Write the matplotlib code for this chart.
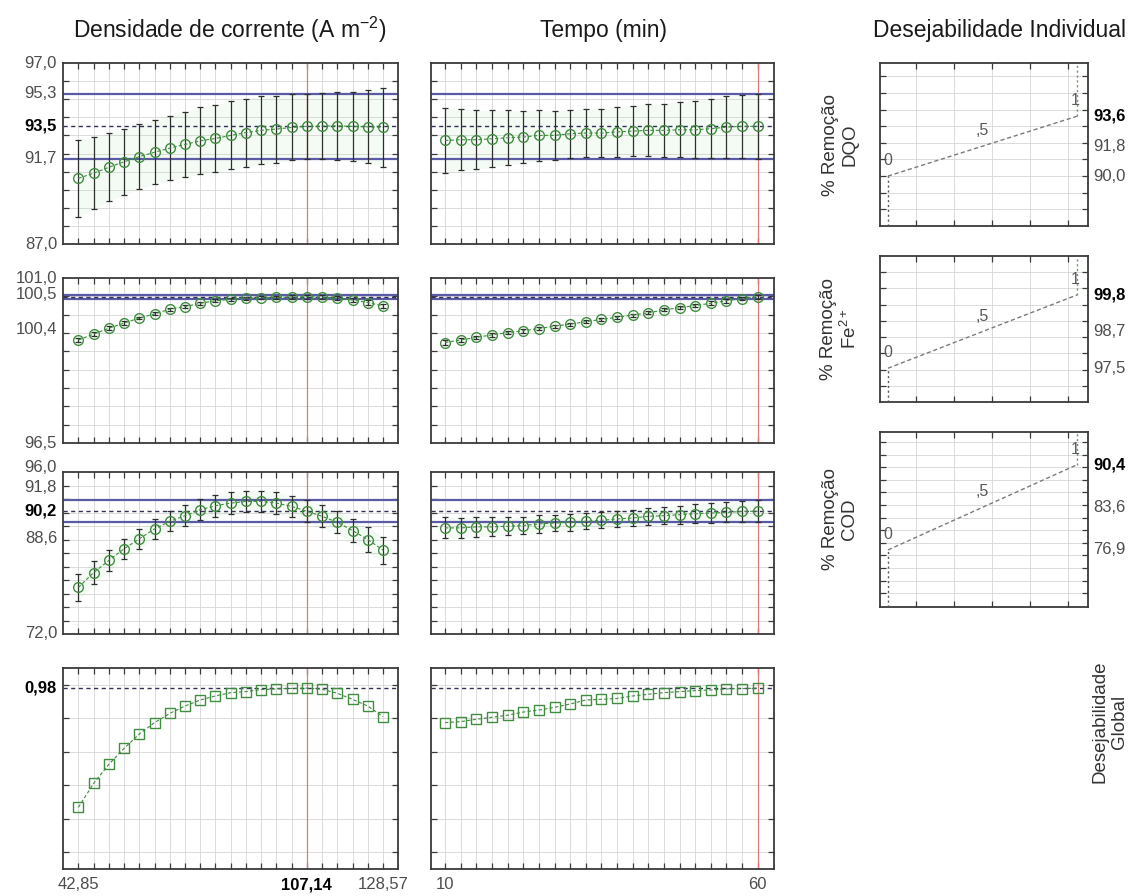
import numpy as np
import matplotlib
matplotlib.use("Agg")
import matplotlib.pyplot as plt
from matplotlib.transforms import blended_transform_factory, offset_copy

# ---------------------------------------------------------------- data
densidade = [42.85, 47.14, 51.43, 55.71, 60.00, 64.28, 68.57, 72.85, 77.14, 81.42,
             85.71, 89.99, 94.28, 98.57, 102.85, 107.14, 111.43, 115.71, 120.00,
             124.28, 128.57]
tempo = [10.0, 12.5, 15.0, 17.5, 20.0, 22.5, 25.0, 27.5, 30.0, 32.5, 35.0, 37.5,
         40.0, 42.5, 45.0, 47.5, 50.0, 52.5, 55.0, 57.5, 60.0]
idx_dens = 15   # current setting: 107.14 A m-2
idx_tempo = 20  # current setting: 60 min

# % remoção DQO
dqo_dens = [90.63, 90.91, 91.24, 91.54, 91.83, 92.07, 92.30, 92.50, 92.70, 92.83, 93.00,
            93.15, 93.28, 93.35, 93.44, 93.50, 93.52, 93.52, 93.50, 93.47, 93.45]
dqo_dens_ic = [2.13, 1.98, 1.89, 1.82, 1.78, 1.77, 1.79, 1.82, 1.85, 1.87, 1.88,
               1.88, 1.87, 1.85, 1.82, 1.80, 1.82, 1.86, 1.92, 2.02, 2.18]
dqo_tempo = [92.72, 92.76, 92.76, 92.81, 92.87, 92.91, 93.00, 93.00, 93.09, 93.13, 93.13,
             93.19, 93.24, 93.28, 93.28, 93.31, 93.31, 93.37, 93.46, 93.50, 93.50]
dqo_tempo_ic = [1.81, 1.69, 1.64, 1.57, 1.51, 1.45, 1.39, 1.34, 1.32, 1.31, 1.33,
                1.36, 1.40, 1.44, 1.48, 1.53, 1.58, 1.62, 1.69, 1.75, 1.80]

# % remoção Fe2+
fe_dens = [99.31, 99.47, 99.63, 99.77, 99.91, 100.02, 100.15, 100.22, 100.31, 100.38, 100.42,
           100.45, 100.46, 100.47, 100.48, 100.49, 100.48, 100.45, 100.40, 100.33, 100.24]
fe_dens_ic = [0.06, 0.05, 0.05, 0.05, 0.04, 0.04, 0.04, 0.04, 0.04, 0.04, 0.04,
              0.04, 0.04, 0.04, 0.05, 0.05, 0.05, 0.05, 0.05, 0.06, 0.06]
fe_tempo = [99.24, 99.31, 99.38, 99.45, 99.51, 99.56, 99.62, 99.69, 99.74, 99.81, 99.87,
            99.93, 99.99, 100.05, 100.13, 100.19, 100.25, 100.31, 100.38, 100.44, 100.49]
fe_tempo_ic = [0.06, 0.06, 0.05, 0.05, 0.05, 0.05, 0.04, 0.04, 0.04, 0.04, 0.04,
               0.04, 0.04, 0.04, 0.04, 0.04, 0.05, 0.05, 0.05, 0.05, 0.05]

# % remoção COD
cod_dens = [78.90, 81.10, 82.90, 84.63, 86.10, 87.57, 88.70, 89.53, 90.41, 91.00, 91.39,
            91.64, 91.64, 91.39, 90.90, 90.19, 89.43, 88.55, 87.32, 86.00, 84.43]
cod_dens_ic = [2.00, 1.75, 1.60, 1.50, 1.45, 1.45, 1.50, 1.55, 1.58, 1.60, 1.60,
               1.60, 1.60, 1.60, 1.60, 1.61, 1.62, 1.65, 1.72, 1.82, 2.00]
cod_tempo = [87.72, 87.72, 87.87, 87.87, 87.96, 88.06, 88.31, 88.45, 88.55, 88.70, 88.84,
             89.04, 89.19, 89.43, 89.53, 89.68, 89.82, 89.92, 90.01, 90.16, 90.19]
cod_tempo_ic = [1.55, 1.50, 1.45, 1.40, 1.35, 1.30, 1.28, 1.25, 1.22, 1.20, 1.20,
                1.20, 1.22, 1.25, 1.28, 1.32, 1.37, 1.42, 1.48, 1.55, 1.61]

# desejabilidade global
des_dens = [0.268, 0.411, 0.525, 0.620, 0.706, 0.774, 0.829, 0.873, 0.909, 0.933, 0.953,
            0.959, 0.971, 0.975, 0.978, 0.980, 0.973, 0.949, 0.913, 0.873, 0.810]
des_tempo = [0.774, 0.780, 0.794, 0.806, 0.818, 0.837, 0.849, 0.865, 0.885, 0.909, 0.913,
             0.918, 0.933, 0.943, 0.953, 0.959, 0.965, 0.969, 0.975, 0.977, 0.980]

# individual desirability: response at d = 0, 0.5, 1
d_levels = [0.0, 0.5, 1.0]
dqo_limits = [90.0, 91.8, 93.6]
fe_limits = [97.54, 98.67, 99.8]
cod_limits = [76.86, 83.63, 90.4]

# axis ranges and ticks of each response row
row_ylim = [(87.0, 97.0), (96.5, 101.0), (72.0, 96.0), (-0.1, 1.1)]
row_ticks = [np.arange(88, 97, 1.0), np.arange(97.0, 101.0, 0.5),
             np.arange(74, 96, 2.0), np.arange(0.0, 1.01, 0.2)]

# ---------------------------------------------------------------- style
plt.rcParams["font.family"] = ["Liberation Sans", "DejaVu Sans"]
plt.rcParams["mathtext.fontset"] = "custom"
plt.rcParams["mathtext.rm"] = "Liberation Sans"
plt.rcParams["mathtext.it"] = "Liberation Sans:italic"
plt.rcParams["mathtext.bf"] = "Liberation Sans:bold"
plt.rcParams["mathtext.default"] = "regular"

W, H = 1148, 896
fig = plt.figure(figsize=(W / 100, H / 100), dpi=100)

FRAME = "#3a3a3a"
GRID = "#d6d6d6"
LABEL = "#4d4d4d"
GREEN = "#3f8d3f"
BLUE = "#5a5aa6"
RED = "#e07a7a"
TICKFS = 12


def px_axes(x0, y0, x1, y1):
    return fig.add_axes([x0 / W, 1 - y1 / H, (x1 - x0) / W, (y1 - y0) / H])


def frame(ax):
    for s in ax.spines.values():
        s.set_color(FRAME)
        s.set_linewidth(1.3)
    ax.tick_params(direction="in", length=4, width=0.9, color=FRAME,
                   top=True, right=True, left=True, bottom=True,
                   labelleft=False, labelbottom=False)
    ax.grid(True, color=GRID, lw=0.6)
    ax.set_axisbelow(True)


def fmt(v, nd=1):
    return f"{v:.{nd}f}".replace(".", ",")


def ylabel_at(ax, value, text, side="left", bold=False, dy=0):
    tr = blended_transform_factory(ax.transAxes, ax.transData)
    weight = "bold" if bold else "normal"
    color = "black" if bold else LABEL
    if side == "left":
        tr = offset_copy(tr, fig=fig, x=-6, y=dy, units="dots")
        ax.text(0, value, text, transform=tr, ha="right", va="center",
                fontsize=TICKFS, color=color, fontweight=weight)
    else:
        tr = offset_copy(tr, fig=fig, x=5, y=dy, units="dots")
        ax.text(1, value, text, transform=tr, ha="left", va="center",
                fontsize=TICKFS, color=color, fontweight=weight)


def xlabel_at(ax, value, text, bold=False):
    tr = blended_transform_factory(ax.transData, ax.transAxes)
    tr = offset_copy(tr, fig=fig, x=0, y=-8, units="dots")
    ax.text(value, 0, text, transform=tr, ha="center", va="top", fontsize=TICKFS,
            color="black" if bold else LABEL,
            fontweight="bold" if bold else "normal")


def profile(ax, x, y, ic, cur, marker="o"):
    x = np.asarray(x)
    y = np.asarray(y)
    ax.axvline(x[cur], color=RED, lw=0.9, zorder=1.5)
    if ic is not None:
        ic = np.asarray(ic)
        ax.fill_between(x, y - ic, y + ic, color="#8fd88f", alpha=0.09, lw=0)
        c, h = y[cur], ic[cur]
        ax.axhline(c + h, color=BLUE, lw=1.6, zorder=2)
        ax.axhline(c - h, color=BLUE, lw=1.6, zorder=2)
        ax.errorbar(x, y, yerr=ic, fmt="none", ecolor="#2e2e2e", elinewidth=0.9,
                    capsize=2, capthick=0.9, zorder=3)
    ax.axhline(y[cur], color="#30305a", ls=(0, (3, 2.5)), lw=1.0, zorder=2.5)
    ax.plot(x, y, ls=(0, (3, 2)), color=GREEN, lw=0.8, zorder=3.5)
    ax.plot(x, y, ls="none", marker=marker, mfc="none", mec=GREEN,
            ms=7, mew=1.0, zorder=4)
    ax.set_xticks(x)
    return y[cur], (ic[cur] if ic is not None else None)


# ---------------------------------------------------------------- layout
rows_lm = [(63, 244), (278, 443), (472, 634), (668, 869)]
left_x = (63, 398)
mid_x = (431, 774)
right_x = (880, 1088)
rows_r = [(63, 226), (256, 402), (432, 607)]

series = [
    (dqo_dens, dqo_dens_ic, dqo_tempo, dqo_tempo_ic, "o"),
    (fe_dens, fe_dens_ic, fe_tempo, fe_tempo_ic, "o"),
    (cod_dens, cod_dens_ic, cod_tempo, cod_tempo_ic, "o"),
    (des_dens, None, des_tempo, None, "s"),
]

for r, (yd, icd, yt, ict, mk) in enumerate(series):
    y0, y1 = rows_lm[r]
    axl = px_axes(left_x[0], y0, left_x[1], y1)
    axm = px_axes(mid_x[0], y0, mid_x[1], y1)
    for ax in (axl, axm):
        frame(ax)
        ax.set_ylim(*row_ylim[r])
        ax.set_yticks(row_ticks[r])
    axl.set_xlim(38.52, 132.79)
    axm.set_xlim(7.75, 62.6)
    c, h = profile(axl, densidade, yd, icd, idx_dens, mk)
    profile(axm, tempo, yt, ict, idx_tempo, mk)

    lo, hi = row_ylim[r]
    if r == 0:
        ylabel_at(axl, hi, fmt(hi))
        ylabel_at(axl, c + h, fmt(c + h))
        ylabel_at(axl, c, fmt(c), bold=True)
        ylabel_at(axl, c - h, fmt(c - h))
        ylabel_at(axl, lo, fmt(lo))
    elif r == 1:
        ylabel_at(axl, hi, fmt(hi))
        ylabel_at(axl, c + h, fmt(c + h))
        ylabel_at(axl, c - h, fmt(c - h), dy=-31)
        ylabel_at(axl, lo, fmt(lo))
    elif r == 2:
        ylabel_at(axl, hi, fmt(hi), dy=5)
        ylabel_at(axl, c + h, fmt(c + h), dy=13)
        ylabel_at(axl, c, fmt(c), bold=True)
        ylabel_at(axl, c - h, fmt(c - h), dy=-16)
        ylabel_at(axl, lo, fmt(lo))
    else:
        ylabel_at(axl, c, fmt(c, 2), bold=True)
        xlabel_at(axl, densidade[0], fmt(densidade[0], 2))
        xlabel_at(axl, densidade[idx_dens], fmt(densidade[idx_dens], 2), bold=True)
        xlabel_at(axl, densidade[-1], fmt(densidade[-1], 2))
        xlabel_at(axm, tempo[0], f"{tempo[0]:.0f}")
        xlabel_at(axm, tempo[-1], f"{tempo[-1]:.0f}")

# individual desirability panels
right_ylim = [(87.0, 96.8), (96.5, 101.0), (67.8, 95.6)]
right_ticks = [np.arange(88, 97, 1.0), np.arange(97.0, 101.0, 0.5), np.arange(70, 96, 2.0)]
right_limits = [dqo_limits, fe_limits, cod_limits]
right_names = ["% Remoção\nDQO", "% Remoção\nFe$^{2+}$", "% Remoção\nCOD"]

for r in range(3):
    y0, y1 = rows_r[r]
    ax = px_axes(right_x[0], y0, right_x[1], y1)
    frame(ax)
    ax.set_xlim(-0.042, 1.058)
    ax.set_xticks([0.15, 0.35, 0.55, 0.75, 0.95])
    ax.set_ylim(*right_ylim[r])
    ax.set_yticks(right_ticks[r])
    lims = right_limits[r]
    ax.plot(d_levels, lims, ls=(0, (3, 2)), color="#7a7a7a", lw=1.0, zorder=3)
    ax.plot([d_levels[0]] * 2, [right_ylim[r][0], lims[0]], ls=(0, (1.5, 2)),
            color="#555555", lw=1.0, zorder=3)
    ax.plot([d_levels[-1]] * 2, [lims[-1], right_ylim[r][1]], ls=(0, (1.5, 2)),
            color="#5c9c5c", lw=1.0, zorder=3)
    for d, v, t in zip(d_levels, lims, ["0", ",5", "1"]):
        tr = offset_copy(ax.transData, fig=fig, x=-2 if d == 1 else 0, y=8, units="dots")
        ax.text(d, v, t, transform=tr, ha="center", va="bottom", fontsize=11.5,
                color="#5a5a5a")
    ylabel_at(ax, lims[2], fmt(lims[2]), side="right", bold=True)
    ylabel_at(ax, lims[1], fmt(lims[1]), side="right")
    ylabel_at(ax, lims[0], fmt(lims[0]), side="right")
    fig.text(840 / W, 1 - (y0 + y1) / 2 / H, right_names[r], rotation=90,
             ha="center", va="center", multialignment="center", fontsize=13.5,
             color="#333333")

fig.text(1110 / W, 1 - 722 / H, "Desejabilidade\nGlobal", rotation=90,
         ha="center", va="center", multialignment="center", fontsize=13.5,
         color="#333333")

# column headings
HEADFS = 16.5
fig.text(230 / W, 1 - 30 / H, "Densidade de corrente (A m$^{-2}$)", ha="center",
         va="center", fontsize=HEADFS, color="#1a1a1a")
fig.text(604 / W, 1 - 30 / H, "Tempo (min)", ha="center", va="center",
         fontsize=HEADFS, color="#1a1a1a")
fig.text(1000 / W, 1 - 30 / H, "Desejabilidade Individual", ha="center",
         va="center", fontsize=HEADFS, color="#1a1a1a")

fig.savefig("out.png", dpi=100, facecolor="white")
